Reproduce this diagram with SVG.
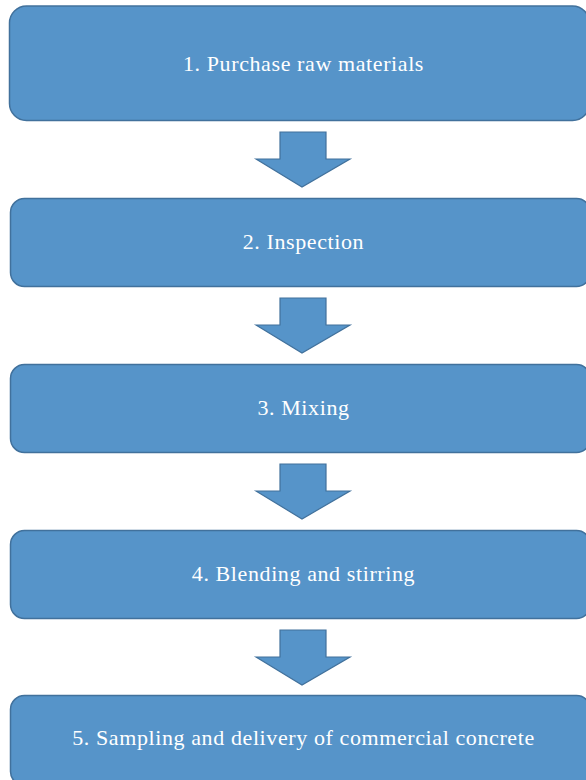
<svg xmlns="http://www.w3.org/2000/svg" width="586" height="780" viewBox="0 0 586 780">
<style>
.box{fill:#5694c9;stroke:#41719c;stroke-width:1.5}
.arr{fill:#5694c9;stroke:#41719c;stroke-width:1.2;stroke-linejoin:miter}
.t{font-family:"Liberation Serif",serif;font-size:22px;fill:#ffffff;text-anchor:middle;letter-spacing:0.6px}
</style>
<rect width="586" height="780" fill="#ffffff"/>
<g id="node1"><rect class="box" x="9.5" y="6" width="580" height="114.5" rx="17"/><text class="t" x="303.5" y="71">1. Purchase raw materials</text></g>
<g id="node2"><rect class="box" x="10.5" y="198.5" width="580" height="88" rx="14"/><text class="t" x="303.5" y="248.5">2. Inspection</text></g>
<g id="node3"><rect class="box" x="10.5" y="364.5" width="580" height="88" rx="14"/><text class="t" x="303.5" y="414.5">3. Mixing</text></g>
<g id="node4"><rect class="box" x="10.5" y="530.5" width="580" height="88" rx="14"/><text class="t" x="303.5" y="580.5">4. Blending and stirring</text></g>
<g id="node5"><rect class="box" x="10.5" y="695.5" width="580" height="90" rx="14"/><text class="t" x="303.5" y="745">5. Sampling and delivery of commercial concrete</text></g>
<g id="connectors">
<path class="arr" d="M280,132 H326 V159 H350 L302,187 L256,159 H280 Z"/>
<path class="arr" d="M280,298 H326 V325 H350 L302,353 L256,325 H280 Z"/>
<path class="arr" d="M280,464 H326 V491 H350 L302,519 L256,491 H280 Z"/>
<path class="arr" d="M280,630 H326 V657 H350 L302,685 L256,657 H280 Z"/>
</g>
</svg>
